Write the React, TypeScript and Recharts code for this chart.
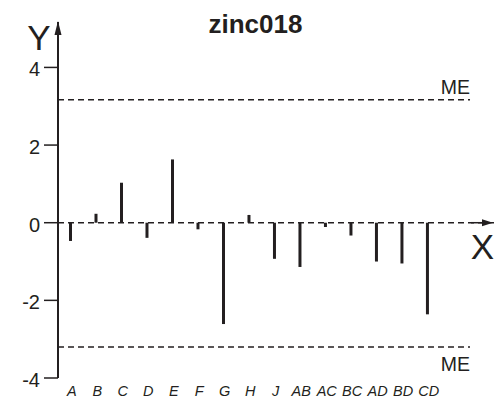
import { BarChart, Bar, XAxis, YAxis, ReferenceLine } from "recharts";

const categories = ["A", "B", "C", "D", "E", "F", "G", "H", "J", "AB", "AC", "BC", "AD", "BD", "CD"];
const effects = [-0.47, 0.23, 1.03, -0.39, 1.63, -0.17, -2.61, 0.2, -0.93, -1.14, -0.11, -0.33, -1.0, -1.05, -2.36];
const yTicks = [-4, -2, 0, 2, 4];
const meUpper = 3.17;
const meLower = -3.2;

const positions = categories.map((_, i) => i + 0.5);
const data = categories.map((c, i) => ({ pos: positions[i], label: c, effect: effects[i] }));

const INK = "#231f20";
const FONT = "'Liberation Sans', Arial, Helvetica, sans-serif";
const X_MAX = 17.14;
const ME_END = 16.16;

function XTick(props: any) {
  const { x, y, payload } = props;
  const idx = positions.indexOf(payload.value);
  return (
    <text x={x + 1} y={y + 16} textAnchor="middle" fontStyle="italic" fontSize={14.5} fontFamily={FONT} fill={INK}>
      {categories[idx]}
    </text>
  );
}

function YTick(props: any) {
  const { x, y, payload } = props;
  return (
    <text x={x} y={y + 9} textAnchor="end" fontSize={20} fontFamily={FONT} fill={INK}>
      {payload.value}
    </text>
  );
}

function YArrow(props: any) {
  const { x, y } = props.viewBox;
  return (
    <g>
      <polygon points={`${x},${y - 1} ${x - 3.5},${y + 13} ${x + 3.5},${y + 13}`} fill={INK} />
      <text x={x - 19} y={y + 28} textAnchor="middle" fontSize={35} fontFamily={FONT} fill={INK}>
        Y
      </text>
    </g>
  );
}

function XArrow(props: any) {
  const { x, y, width } = props.viewBox;
  const tip = x + width - 2;
  return (
    <g>
      <polygon points={`${tip},${y} ${tip - 11},${y - 3.5} ${tip - 11},${y + 3.5}`} fill={INK} />
      <line x1={tip - 22} y1={y} x2={tip - 8} y2={y} stroke={INK} strokeWidth={1.5} />
      <text x={tip - 10.5} y={y + 36} textAnchor="middle" fontSize={35} fontFamily={FONT} fill={INK}>
        X
      </text>
    </g>
  );
}

function MeLabel(above: boolean) {
  return (props: any) => {
    const { x, y, width } = props.viewBox;
    return (
      <text
        x={x + width}
        y={above ? y - 6 : y + 24}
        textAnchor="end"
        fontSize={19.5}
        fontFamily={FONT}
        fill={INK}
      >
        ME
      </text>
    );
  };
}

export default function App() {
  return (
    <div style={{ position: "absolute", left: 0, top: 0, width: 499, height: 399, background: "#fff" }}>
      <div
        style={{
          position: "absolute",
          left: 0,
          width: 511,
          top: 10.5,
          textAlign: "center",
          fontFamily: FONT,
          fontWeight: "bold",
          fontSize: 26,
          lineHeight: "26px",
          color: INK,
        }}
      >
        zinc018
      </div>
      <BarChart width={499} height={399} data={data} margin={{ top: 22, right: 4, bottom: 0, left: 0 }}>
        <XAxis
          dataKey="pos"
          type="number"
          domain={[0, X_MAX]}
          ticks={positions}
          interval={0}
          height={21}
          axisLine={false}
          tickLine={false}
          tickSize={0}
          tick={<XTick />}
        />
        <YAxis
          type="number"
          domain={[-4, 5.17]}
          ticks={yTicks}
          width={58}
          tickSize={14}
          tickMargin={4}
          axisLine={{ stroke: INK, strokeWidth: 2 }}
          tickLine={{ stroke: INK, strokeWidth: 1.5 }}
          tick={<YTick />}
        />
        <ReferenceLine
          segment={[{ x: 0, y: meUpper }, { x: ME_END, y: meUpper }]}
          stroke={INK}
          strokeWidth={1.5}
          strokeDasharray="6 4"
          label={MeLabel(true)}
        />
        <ReferenceLine
          segment={[{ x: 0, y: meLower }, { x: ME_END, y: meLower }]}
          stroke={INK}
          strokeWidth={1.5}
          strokeDasharray="6 4"
          label={MeLabel(false)}
        />
        <ReferenceLine y={0} stroke={INK} strokeWidth={1.5} strokeDasharray="6 4" label={XArrow} />
        <ReferenceLine x={0} stroke="none" label={YArrow} />
        <Bar dataKey="effect" fill={INK} barSize={3} isAnimationActive={false} />
      </BarChart>
    </div>
  );
}
